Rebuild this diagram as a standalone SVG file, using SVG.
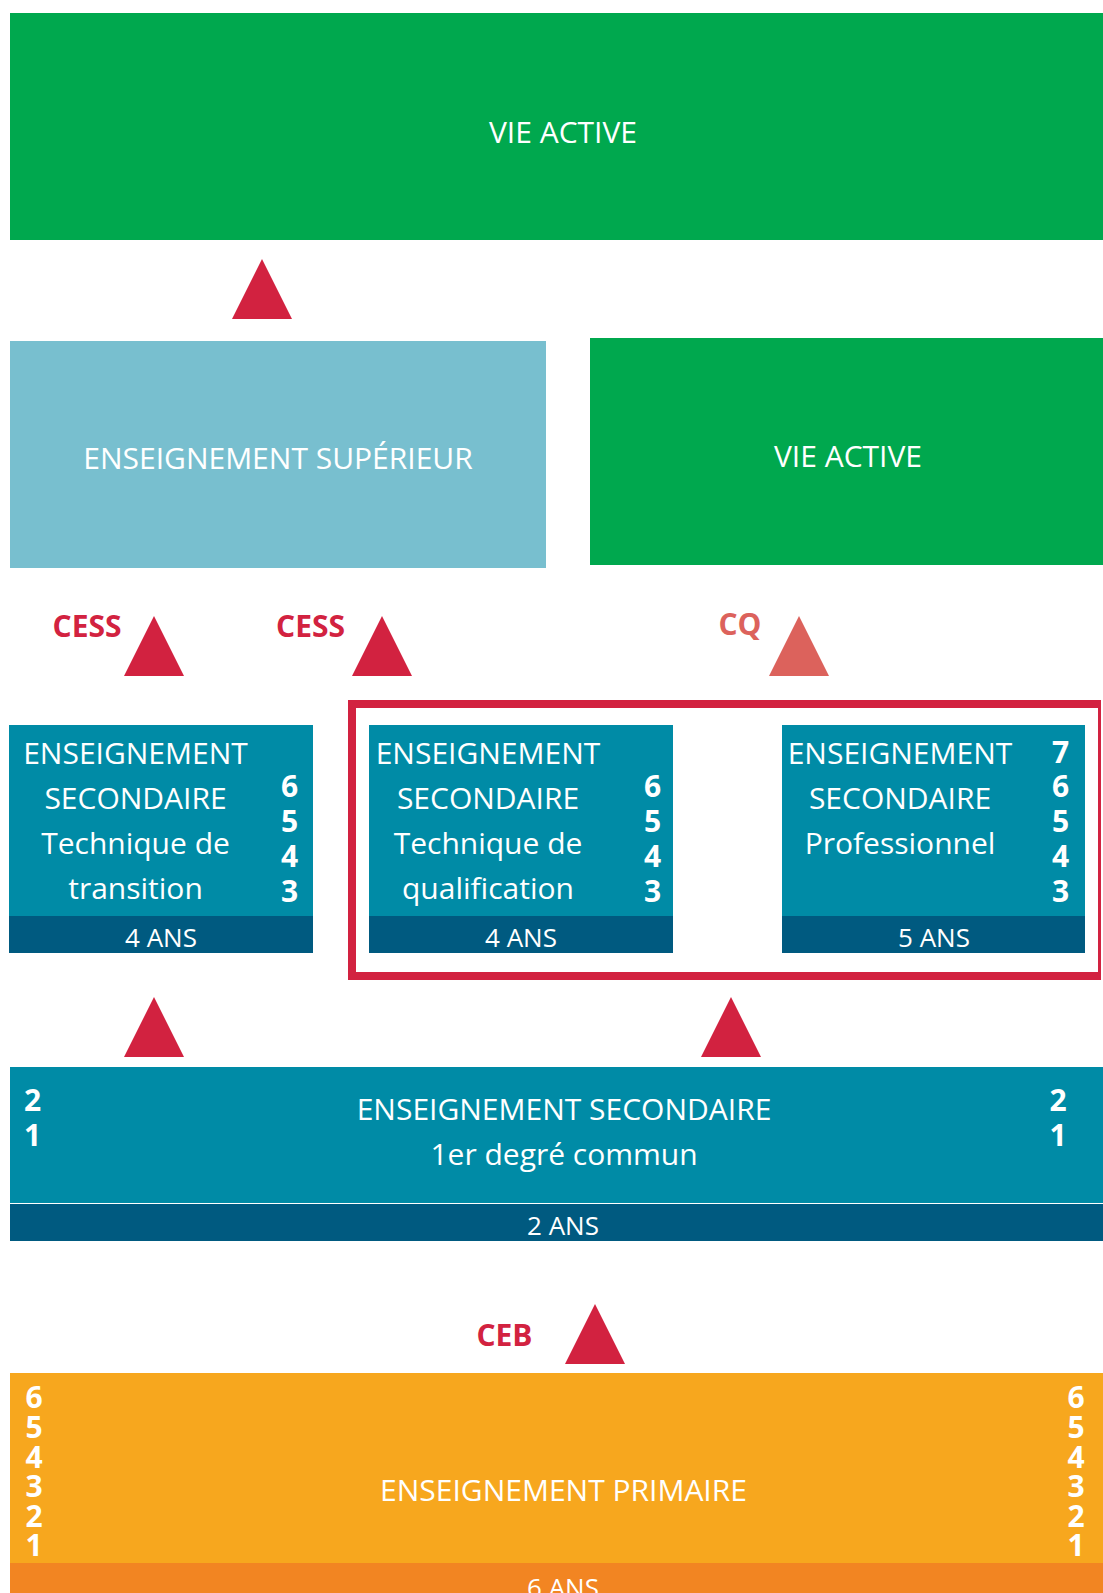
<svg xmlns="http://www.w3.org/2000/svg" xmlns:xlink="http://www.w3.org/1999/xlink" width="1103" height="1593" viewBox="0 0 1103 1593">
<style>
.t{font-family:"Open Sans","Liberation Sans",sans-serif;font-size:30px;fill:#ffffff;text-anchor:middle}
.n{font-family:"Open Sans","Liberation Sans",sans-serif;font-size:30px;font-weight:bold;fill:#ffffff;text-anchor:middle}
.a{font-family:"Open Sans","Liberation Sans",sans-serif;font-size:26px;fill:#ffffff;text-anchor:middle}
.lab{font-family:"Open Sans","Liberation Sans",sans-serif;font-size:30px;font-weight:bold;fill:#D22240;text-anchor:middle}
.green{fill:#00A84E}
.sky{fill:#78BFCF}
.teal{fill:#008BA6}
.dark{fill:#005A80}
.tri{fill:#D22240}
</style>
<defs>
<path id="tri" d="M30 0 L60 60 L0 60 Z"/>
</defs>
<rect width="1103" height="1593" fill="#ffffff"/>

<g id="vie-active-top">
<rect class="green" x="10" y="13" width="1093" height="227"/>
<text class="t" x="563" y="143">VIE ACTIVE</text>
</g>

<g id="enseignement-superieur">
<rect class="sky" x="10" y="341" width="536" height="227"/>
<text class="t" x="278" y="469">ENSEIGNEMENT SUPÉRIEUR</text>
</g>

<g id="vie-active-right">
<rect class="green" x="590" y="338" width="513" height="227"/>
<text class="t" x="848" y="467">VIE ACTIVE</text>
</g>

<g id="qualif-frame">
<path fill="#D22240" fill-rule="evenodd" d="M348 700 H1101 V980 H348 Z M356 708 V972 H1098 V708 Z"/>
</g>

<g id="sec-transition">
<rect class="teal" x="9" y="725" width="304" height="191"/>
<rect class="dark" x="9" y="916" width="304" height="37"/>
<text class="t" x="135.5" y="764">ENSEIGNEMENT</text>
<text class="t" x="135.5" y="809">SECONDAIRE</text>
<text class="t" x="135.5" y="854">Technique de</text>
<text class="t" x="135.5" y="899">transition</text>
<text class="n" x="289.5" y="797">6</text>
<text class="n" x="289.5" y="832">5</text>
<text class="n" x="289.5" y="867">4</text>
<text class="n" x="289.5" y="902">3</text>
<text class="a" x="161" y="947">4 ANS</text>
</g>

<g id="sec-qualification">
<rect class="teal" x="369" y="725" width="304" height="191"/>
<rect class="dark" x="369" y="916" width="304" height="37"/>
<text class="t" x="488" y="764">ENSEIGNEMENT</text>
<text class="t" x="488" y="809">SECONDAIRE</text>
<text class="t" x="488" y="854">Technique de</text>
<text class="t" x="488" y="899">qualification</text>
<text class="n" x="652.5" y="797">6</text>
<text class="n" x="652.5" y="832">5</text>
<text class="n" x="652.5" y="867">4</text>
<text class="n" x="652.5" y="902">3</text>
<text class="a" x="521" y="947">4 ANS</text>
</g>

<g id="sec-professionnel">
<rect class="teal" x="782" y="725" width="303" height="191"/>
<rect class="dark" x="782" y="916" width="303" height="37"/>
<text class="t" x="900" y="764">ENSEIGNEMENT</text>
<text class="t" x="900" y="809">SECONDAIRE</text>
<text class="t" x="900" y="854">Professionnel</text>
<text class="n" x="1060.5" y="763">7</text>
<text class="n" x="1060.5" y="797">6</text>
<text class="n" x="1060.5" y="832">5</text>
<text class="n" x="1060.5" y="867">4</text>
<text class="n" x="1060.5" y="902">3</text>
<text class="a" x="934" y="947">5 ANS</text>
</g>

<g id="sec-premier-degre">
<rect class="teal" x="10" y="1067" width="1093" height="136"/>
<rect class="dark" x="10" y="1204" width="1093" height="37"/>
<text class="t" x="564" y="1120">ENSEIGNEMENT SECONDAIRE</text>
<text class="t" x="564" y="1165">1er degré commun</text>
<text class="n" x="32.5" y="1111">2</text>
<text class="n" x="32.5" y="1146">1</text>
<text class="n" x="1058" y="1111">2</text>
<text class="n" x="1058" y="1146">1</text>
<text class="a" x="563" y="1235">2 ANS</text>
</g>

<g id="primaire">
<rect fill="#F7A71E" x="10" y="1373" width="1093" height="190"/>
<rect fill="#F28522" x="10" y="1563" width="1093" height="30"/>
<text class="t" x="563.5" y="1501">ENSEIGNEMENT PRIMAIRE</text>
<text class="n" x="34" y="1408">6</text>
<text class="n" x="34" y="1438">5</text>
<text class="n" x="34" y="1468">4</text>
<text class="n" x="34" y="1497">3</text>
<text class="n" x="34" y="1527">2</text>
<text class="n" x="34" y="1556">1</text>
<text class="n" x="1076" y="1408">6</text>
<text class="n" x="1076" y="1438">5</text>
<text class="n" x="1076" y="1468">4</text>
<text class="n" x="1076" y="1497">3</text>
<text class="n" x="1076" y="1527">2</text>
<text class="n" x="1076" y="1556">1</text>
<text class="a" x="563" y="1597">6 ANS</text>
</g>

<g id="connectors">
<use xlink:href="#tri" class="tri" x="232" y="259"/>
<use xlink:href="#tri" class="tri" x="124" y="616"/>
<use xlink:href="#tri" class="tri" x="352" y="616"/>
<use xlink:href="#tri" fill="#DC625C" x="769" y="616"/>
<use xlink:href="#tri" class="tri" x="124" y="997"/>
<use xlink:href="#tri" class="tri" x="701" y="997"/>
<use xlink:href="#tri" class="tri" x="565" y="1304"/>
<text class="lab" x="87" y="637">CESS</text>
<text class="lab" x="310.5" y="637">CESS</text>
<text class="lab" x="740" y="635" fill="#DC625C" style="fill:#DC625C">CQ</text>
<text class="lab" x="504.5" y="1346">CEB</text>
</g>
</svg>
